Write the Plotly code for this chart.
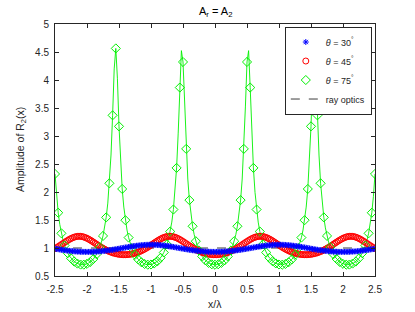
import plotly.graph_objects as go

# sample grid x/lambda, step 0.025 from -2.5 to 2.5
x_start, x_step, n_pts = -2.5, 0.025, 201
x = [round(x_start + x_step * i, 3) for i in range(n_pts)]

# theta = 30 deg (blue)
amp30 = [
    0.9879, 0.9829, 0.9781, 0.9733, 0.9687, 0.9644, 0.9602, 0.9562, 0.9525, 0.9490,
    0.9458, 0.9429, 0.9402, 0.9379, 0.9359, 0.9341, 0.9327, 0.9316, 0.9308, 0.9303,
    0.9302, 0.9303, 0.9308, 0.9316, 0.9327, 0.9341, 0.9359, 0.9379, 0.9402, 0.9429,
    0.9458, 0.9490, 0.9525, 0.9562, 0.9602, 0.9644, 0.9687, 0.9733, 0.9781, 0.9829,
    0.9879, 0.9930, 0.9981, 1.0032, 1.0083, 1.0133, 1.0182, 1.0230, 1.0276, 1.0321,
    1.0362, 1.0401, 1.0437, 1.0469, 1.0498, 1.0523, 1.0543, 1.0560, 1.0571, 1.0578,
    1.0581, 1.0578, 1.0571, 1.0560, 1.0543, 1.0523, 1.0498, 1.0469, 1.0437, 1.0401,
    1.0362, 1.0321, 1.0276, 1.0230, 1.0182, 1.0133, 1.0083, 1.0032, 0.9981, 0.9930,
    0.9879, 0.9829, 0.9781, 0.9733, 0.9687, 0.9644, 0.9602, 0.9562, 0.9525, 0.9490,
    0.9458, 0.9429, 0.9402, 0.9379, 0.9359, 0.9341, 0.9327, 0.9316, 0.9308, 0.9303,
    0.9302,
    0.9303, 0.9308, 0.9316, 0.9327, 0.9341, 0.9359, 0.9379, 0.9402, 0.9429, 0.9458,
    0.9490, 0.9525, 0.9562, 0.9602, 0.9644, 0.9687, 0.9733, 0.9781, 0.9829, 0.9879,
    0.9930, 0.9981, 1.0032, 1.0083, 1.0133, 1.0182, 1.0230, 1.0276, 1.0321, 1.0362,
    1.0401, 1.0437, 1.0469, 1.0498, 1.0523, 1.0543, 1.0560, 1.0571, 1.0578, 1.0581,
    1.0578, 1.0571, 1.0560, 1.0543, 1.0523, 1.0498, 1.0469, 1.0437, 1.0401, 1.0362,
    1.0321, 1.0276, 1.0230, 1.0182, 1.0133, 1.0083, 1.0032, 0.9981, 0.9930, 0.9879,
    0.9829, 0.9781, 0.9733, 0.9687, 0.9644, 0.9602, 0.9562, 0.9525, 0.9490, 0.9458,
    0.9429, 0.9402, 0.9379, 0.9359, 0.9341, 0.9327, 0.9316, 0.9308, 0.9303, 0.9302,
    0.9303, 0.9308, 0.9316, 0.9327, 0.9341, 0.9359, 0.9379, 0.9402, 0.9429, 0.9458,
    0.9490, 0.9525, 0.9562, 0.9602, 0.9644, 0.9687, 0.9733, 0.9781, 0.9829, 0.9879,
]

# theta = 45 deg (red)
amp45 = [
    0.9897, 1.0064, 1.0241, 1.0425, 1.0614, 1.0806, 1.0997, 1.1186, 1.1367, 1.1538,
    1.1691, 1.1825, 1.1935, 1.2018, 1.2071, 1.2092, 1.2081, 1.2037, 1.1963, 1.1860,
    1.1733, 1.1584, 1.1418, 1.1240, 1.1054, 1.0862, 1.0670, 1.0480, 1.0294, 1.0115,
    0.9945, 0.9784, 0.9634, 0.9496, 0.9370, 0.9255, 0.9154, 0.9066, 0.8991, 0.8928,
    0.8879, 0.8842, 0.8818, 0.8806, 0.8807, 0.8820, 0.8846, 0.8885, 0.8936, 0.9000,
    0.9077, 0.9167, 0.9271, 0.9386, 0.9514, 0.9654, 0.9806, 0.9968, 1.0139, 1.0319,
    1.0506, 1.0696, 1.0889, 1.1079, 1.1265, 1.1442, 1.1606, 1.1752, 1.1876, 1.1975,
    1.2045, 1.2084, 1.2091, 1.2066, 1.2009, 1.1922, 1.1808, 1.1671, 1.1515, 1.1343,
    1.1160, 1.0971, 1.0779, 1.0587, 1.0399, 1.0216, 1.0041, 0.9874, 0.9718, 0.9573,
    0.9440, 0.9319, 0.9210, 0.9115, 0.9032, 0.8962, 0.8905, 0.8861, 0.8830, 0.8811,
    0.8805,
    0.8811, 0.8830, 0.8861, 0.8905, 0.8962, 0.9032, 0.9115, 0.9210, 0.9319, 0.9440,
    0.9573, 0.9718, 0.9874, 1.0041, 1.0216, 1.0399, 1.0587, 1.0779, 1.0971, 1.1160,
    1.1343, 1.1515, 1.1671, 1.1808, 1.1922, 1.2009, 1.2066, 1.2091, 1.2084, 1.2045,
    1.1975, 1.1876, 1.1752, 1.1606, 1.1442, 1.1265, 1.1079, 1.0889, 1.0696, 1.0506,
    1.0319, 1.0139, 0.9968, 0.9806, 0.9654, 0.9514, 0.9386, 0.9271, 0.9167, 0.9077,
    0.9000, 0.8936, 0.8885, 0.8846, 0.8820, 0.8807, 0.8806, 0.8818, 0.8842, 0.8879,
    0.8928, 0.8991, 0.9066, 0.9154, 0.9255, 0.9370, 0.9496, 0.9634, 0.9784, 0.9945,
    1.0115, 1.0294, 1.0480, 1.0670, 1.0862, 1.1054, 1.1240, 1.1418, 1.1584, 1.1733,
    1.1860, 1.1963, 1.2037, 1.2081, 1.2092, 1.2071, 1.2018, 1.1935, 1.1825, 1.1691,
    1.1538, 1.1367, 1.1186, 1.0997, 1.0806, 1.0614, 1.0425, 1.0241, 1.0064, 0.9897,
]

# theta = 75 deg (green)
amp75 = [
    2.3219, 1.9174, 1.6300, 1.4187, 1.2620, 1.1401, 1.0444, 0.9681, 0.9065, 0.8570,
    0.8164, 0.7837, 0.7575, 0.7371, 0.7216, 0.7107, 0.7040, 0.7013, 0.7026, 0.7078,
    0.7172, 0.7311, 0.7497, 0.7737, 0.8039, 0.8414, 0.8877, 0.9447, 1.0154, 1.1037,
    1.2152, 1.3590, 1.5470, 1.8019, 2.1554, 2.6601, 3.3692, 4.1979, 4.5639, 4.0317,
    3.1723, 2.5134, 2.0540, 1.7307, 1.4965, 1.3206, 1.1863, 1.0809, 0.9974, 0.9303,
    0.8760, 0.8319, 0.7962, 0.7676, 0.7449, 0.7274, 0.7147, 0.7063, 0.7020, 0.7016,
    0.7052, 0.7129, 0.7248, 0.7414, 0.7631, 0.7907, 0.8250, 0.8675, 0.9198, 0.9845,
    1.0649, 1.1651, 1.2944, 1.4626, 1.6870, 1.9950, 2.4302, 3.0514, 3.8652, 4.5245,
    4.3217, 3.5190, 2.7700, 2.2317, 1.8553, 1.5863, 1.3883, 1.2379, 1.1215, 1.0296,
    0.9562, 0.8969, 0.8484, 0.8099, 0.7785, 0.7535, 0.7340, 0.7194, 0.7092, 0.7032,
    0.7013,
    0.7032, 0.7092, 0.7194, 0.7340, 0.7535, 0.7785, 0.8099, 0.8484, 0.8969, 0.9562,
    1.0296, 1.1215, 1.2379, 1.3883, 1.5863, 1.8553, 2.2317, 2.7700, 3.5190, 4.3217,
    4.5245, 3.8652, 3.0514, 2.4302, 1.9950, 1.6870, 1.4626, 1.2944, 1.1651, 1.0649,
    0.9845, 0.9198, 0.8675, 0.8250, 0.7907, 0.7631, 0.7414, 0.7248, 0.7129, 0.7052,
    0.7016, 0.7020, 0.7063, 0.7147, 0.7274, 0.7449, 0.7676, 0.7962, 0.8319, 0.8760,
    0.9303, 0.9974, 1.0809, 1.1863, 1.3206, 1.4965, 1.7307, 2.0540, 2.5134, 3.1723,
    4.0317, 4.5639, 4.1979, 3.3692, 2.6601, 2.1554, 1.8019, 1.5470, 1.3590, 1.2152,
    1.1037, 1.0154, 0.9447, 0.8877, 0.8414, 0.8039, 0.7737, 0.7497, 0.7311, 0.7172,
    0.7078, 0.7026, 0.7013, 0.7040, 0.7107, 0.7216, 0.7371, 0.7575, 0.7837, 0.8164,
    0.8570, 0.9065, 0.9681, 1.0444, 1.1401, 1.2620, 1.4187, 1.6300, 1.9174, 2.3219,
]

ray_x = [-2.5, 2.5]
ray_y = [1.0, 1.0]

x_ticks = [-2.5, -2, -1.5, -1, -0.5, 0, 0.5, 1, 1.5, 2, 2.5]
x_ticklabels = ["-2.5", "-2", "-1.5", "-1", "-0.5", "0", "0.5", "1", "1.5", "2", "2.5"]
y_ticks = [0.5, 1, 1.5, 2, 2.5, 3, 3.5, 4, 4.5, 5]
y_ticklabels = ["0.5", "1", "1.5", "2", "2.5", "3", "3.5", "4", "4.5", "5"]

labels = ["<i>θ</i> = 30<sup>°</sup>", "<i>θ</i> = 45<sup>°</sup>",
          "<i>θ</i> = 75<sup>°</sup>", "ray optics"]

BLUE = "rgb(0,0,255)"
RED = "rgb(255,0,0)"
GREEN = "rgb(0,240,0)"
FONT = "Liberation Sans, Arial, sans-serif"
AXC = "rgb(38,38,38)"

fig = go.Figure()
fig.add_trace(go.Scatter(x=x, y=amp75, mode="lines", line=dict(color=GREEN, width=0.9),
                         showlegend=False, hoverinfo="skip"))
fig.add_trace(go.Scatter(x=ray_x, y=ray_y, mode="lines", name=labels[3], legendrank=4,
                         line=dict(color="rgb(60,60,60)", width=1, dash="dash")))
fig.add_trace(go.Scatter(x=x, y=amp45, mode="markers", name=labels[1], legendrank=2,
                         marker=dict(symbol="circle-open", size=6, color=RED,
                                     line=dict(width=1, color=RED))))
fig.add_trace(go.Scatter(x=x[::2], y=amp75[::2], mode="markers", name=labels[2], legendrank=3,
                         marker=dict(symbol="diamond-open", size=7, color=GREEN,
                                     line=dict(width=1, color=GREEN))))
fig.add_trace(go.Scatter(x=x, y=amp30, mode="markers", name=labels[0], legendrank=1,
                         marker=dict(symbol="asterisk-open", size=5, color=BLUE,
                                     line=dict(width=1, color=BLUE))))

axis_common = dict(showline=True, linecolor=AXC, linewidth=1, mirror="ticks",
                   ticks="inside", ticklen=4, tickcolor=AXC, showgrid=False,
                   zeroline=False, tickfont=dict(family=FONT, size=10, color=AXC))

fig.update_layout(
    width=415, height=312,
    margin=dict(l=55, r=40, t=24, b=36),
    paper_bgcolor="white", plot_bgcolor="white",
    font=dict(family=FONT, size=10, color=AXC),
    xaxis=dict(range=[-2.5, 2.5], tickvals=x_ticks, ticktext=x_ticklabels,
               ticklabelstandoff=4, **axis_common),
    yaxis=dict(range=[0.5, 5], tickvals=y_ticks, ticktext=y_ticklabels,
               ticklabelstandoff=3, **axis_common),
    legend=dict(x=0.99, y=0.99, xanchor="right", yanchor="top",
                bgcolor="white", bordercolor=AXC, borderwidth=1,
                font=dict(family=FONT, size=9, color=AXC),
                tracegroupgap=0, itemwidth=30),
    showlegend=True,
    annotations=[
        dict(text="A<sub>r</sub> = A<sub>2</sub>", x=0.5, y=1, xref="paper", yref="paper",
             xanchor="center", yanchor="bottom", yshift=3, showarrow=False,
             font=dict(family=FONT, size=11, color="black")),
        dict(text="x/λ", x=0.5, y=0, xref="paper", yref="paper",
             xanchor="center", yanchor="top", yshift=-20, showarrow=False,
             font=dict(family=FONT, size=10.5, color=AXC)),
        dict(text="Amplitude of R<sub>2</sub>(x)", x=0, y=0.5, xref="paper", yref="paper",
             xanchor="center", yanchor="middle", xshift=-34, textangle=-90, showarrow=False,
             font=dict(family=FONT, size=10.5, color=AXC)),
    ],
)

fig.write_html("out.html", config={"displayModeBar": False},
               post_script="document.body.style.margin='0';")
